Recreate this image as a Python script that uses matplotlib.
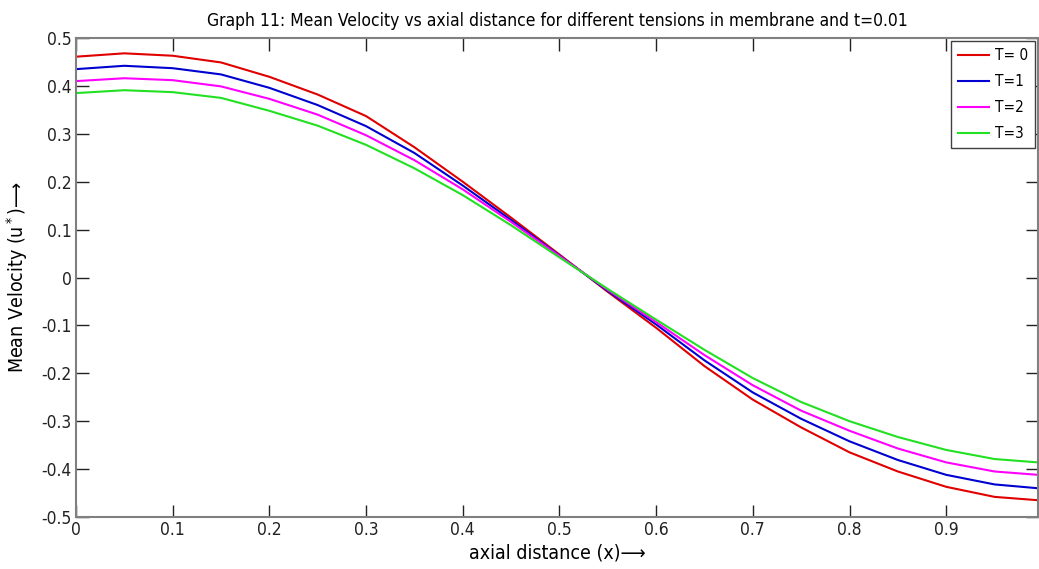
import matplotlib
matplotlib.use("Agg")
import matplotlib.pyplot as plt

plt.rcParams['font.family'] = ['DejaVu Sans']
plt.rcParams['font.stretch'] = 'condensed'

x = [0, 0.05, 0.1, 0.15, 0.2, 0.25, 0.3, 0.35, 0.4, 0.45, 0.5,
     0.55, 0.6, 0.65, 0.7, 0.75, 0.8, 0.85, 0.9, 0.95, 0.995]
u_T0 = [0.461, 0.468, 0.463, 0.449, 0.419, 0.382, 0.337, 0.272, 0.200, 0.125, 0.048,
        -0.030, -0.105, -0.185, -0.255, -0.313, -0.365, -0.405, -0.437, -0.458, -0.465]
u_T1 = [0.435, 0.442, 0.437, 0.424, 0.396, 0.360, 0.316, 0.260, 0.192, 0.120, 0.046,
        -0.028, -0.098, -0.173, -0.240, -0.295, -0.342, -0.381, -0.412, -0.432, -0.440]
u_T2 = [0.410, 0.416, 0.412, 0.399, 0.373, 0.340, 0.297, 0.245, 0.184, 0.116, 0.045,
        -0.026, -0.093, -0.162, -0.225, -0.278, -0.320, -0.357, -0.386, -0.405, -0.412]
u_T3 = [0.385, 0.391, 0.387, 0.375, 0.348, 0.317, 0.277, 0.228, 0.172, 0.109, 0.042,
        -0.024, -0.088, -0.151, -0.210, -0.260, -0.300, -0.333, -0.360, -0.379, -0.386]
labels = ['T= 0', 'T=1', 'T=2', 'T=3']
colors = ['#e00000', '#0000d0', '#ff00ff', '#22e022']
xticks = [0, 0.1, 0.2, 0.3, 0.4, 0.5, 0.6, 0.7, 0.8, 0.9]
xticklabels = ['0', '0.1', '0.2', '0.3', '0.4', '0.5', '0.6', '0.7', '0.8', '0.9']
yticks = [0.5, 0.4, 0.3, 0.2, 0.1, 0, -0.1, -0.2, -0.3, -0.4, -0.5]
yticklabels = ['0.5', '0.4', '0.3', '0.2', '0.1', '0', '-0.1', '-0.2', '-0.3', '-0.4', '-0.5']

fig = plt.figure(figsize=(10.39, 5.69), dpi=100)
ax = fig.add_axes([0.0731, 0.0914, 0.926, 0.8418])

for ys, lab, c in zip([u_T0, u_T1, u_T2, u_T3], labels, colors):
    ax.plot(x, ys, color=c, lw=1.5, label=lab)

ax.set_xlim(0, 0.995)
ax.set_ylim(-0.5, 0.5)
ax.set_xticks(xticks)
ax.set_xticklabels(xticklabels)
ax.set_yticks(yticks)
ax.set_yticklabels(yticklabels)
ax.tick_params(direction='in', length=9, width=1, top=True, right=True,
               labelsize=12.5, colors='#222222', pad=3)
for s in ax.spines.values():
    s.set_color('#808080')
    s.set_linewidth(1.5)

ax.set_title('Graph 11: Mean Velocity vs axial distance for different tensions in membrane and t=0.01',
             fontsize=12.5, pad=9)
ax.set_xlabel('axial distance (x)\u27f6', fontsize=14, labelpad=3)
ax.set_ylabel('Mean Velocity (u$^*$)\u27f6', fontsize=14, labelpad=8)

leg = ax.legend(loc='upper right', fontsize=11, handlelength=2.0, handletextpad=0.4,
                borderpad=0.45, labelspacing=0.72, fancybox=False, framealpha=1,
                borderaxespad=0.2)
leg.get_frame().set_edgecolor('#404040')
leg.get_frame().set_linewidth(1)

fig.savefig('out.png', dpi=100)
